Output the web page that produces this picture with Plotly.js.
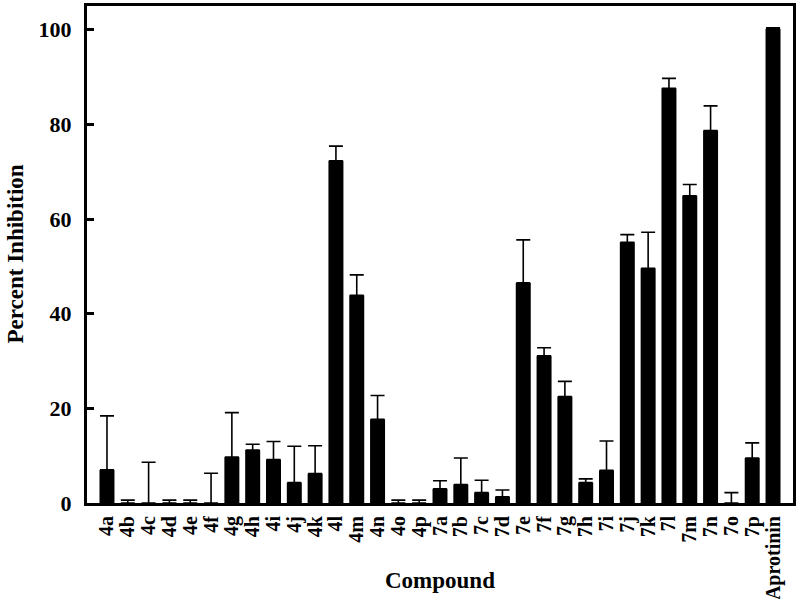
<!DOCTYPE html>
<html>
<head>
<meta charset="utf-8">
<script src="https://cdn.plot.ly/plotly-3.0.1.min.js"></script>
<style>
	html, body { margin: 0; padding: 0; background: #fff; }
	#chart { width: 800px; height: 599px; }
</style>
</head>
<body>
<div id="chart"></div>
<script>
(function () {

	'use strict';

	// compounds (x categories)
	const compounds = [
		'4a', '4b', '4c', '4d', '4e', '4f', '4g', '4h', '4i', '4j', '4k', '4l', '4m', '4n', '4o', '4p',
		'7a', '7b', '7c', '7d', '7e', '7f', '7g', '7h', '7i', '7j', '7k', '7l', '7m', '7n', '7o', '7p',
		'Aprotinin'
	];

	// percent inhibition (bar heights)
	const inhibition = [
		7.0, 0, 0, 0, 0, 0, 9.7, 11.2, 9.2, 4.3, 6.2, 72.3, 43.9, 17.7, 0, 0,
		3.0, 3.9, 2.2, 1.3, 46.5, 31.1, 22.5, 4.3, 6.9, 55.1, 49.6, 87.6, 64.9, 78.7, 0, 9.5,
		100.2
	];

	// upper error (one sided)
	const errorUp = [
		11.4, 0.6, 8.6, 0.6, 0.6, 6.3, 9.4, 1.2, 3.8, 7.7, 5.9, 3.1, 4.3, 5.0, 0.6, 0.6,
		1.7, 5.6, 2.6, 1.45, 9.1, 1.7, 3.2, 0.8, 6.2, 1.6, 7.6, 2.1, 2.4, 5.2, 2.2, 3.2,
		0.2
	];

	const yTicks = [0, 20, 40, 60, 80, 100];

	const serif = '"Liberation Serif", "Times New Roman", serif';

	const bars = {
		x: compounds,
		y: inhibition,
		type: 'bar',
		width: 0.72,
		marker: { color: '#000', line: { width: 0 } },
		error_y: {
			type: 'data',
			symmetric: false,
			array: errorUp,
			arrayminus: compounds.map(() => 0),
			color: '#000',
			thickness: 1.6,
			width: 7,
		},
		hoverinfo: 'x+y',
	};

	const layout = {
		width: 800,
		height: 599,
		margin: { l: 87, r: 7, t: 6, b: 96 },
		paper_bgcolor: '#fff',
		plot_bgcolor: '#fff',
		showlegend: false,
		font: { family: serif, color: '#000' },
		xaxis: {
			type: 'category',
			range: [-0.96, 32.96],
			tickmode: 'array',
			tickvals: compounds,
			ticktext: compounds,
			tickangle: -90,
			ticks: '',
			ticklabelstandoff: 2,
			tickfont: { family: serif, size: 20, weight: 'bold', color: '#000' },
			showline: true,
			linecolor: '#000',
			linewidth: 3,
			mirror: true,
			showgrid: false,
			zeroline: false,
			automargin: false,
		},
		yaxis: {
			range: [0, 105],
			tickvals: yTicks,
			ticktext: yTicks.map(String),
			ticks: 'inside',
			ticklen: 7,
			tickwidth: 3,
			tickcolor: '#000',
			ticklabelstandoff: 8,
			tickfont: { family: serif, size: 22, weight: 'bold', color: '#000' },
			showline: true,
			linecolor: '#000',
			linewidth: 3,
			mirror: true,
			showgrid: false,
			zeroline: false,
			automargin: false,
		},
		annotations: [
			{
				text: '<b>Compound</b>',
				xref: 'paper', yref: 'paper',
				x: 0.5, y: 0,
				xanchor: 'center', yanchor: 'middle',
				yshift: -77,
				showarrow: false,
				font: { family: serif, size: 23, color: '#000' },
			},
			{
				text: '<b>Percent Inhibition</b>',
				xref: 'paper', yref: 'paper',
				x: 0, y: 0.5,
				xanchor: 'center', yanchor: 'middle',
				xshift: -72,
				textangle: -90,
				showarrow: false,
				font: { family: serif, size: 23, color: '#000' },
			},
		],
	};

	Plotly.newPlot(document.getElementById('chart'), [bars], layout, { displayModeBar: false, staticPlot: true });

})();
</script>
</body>
</html>
